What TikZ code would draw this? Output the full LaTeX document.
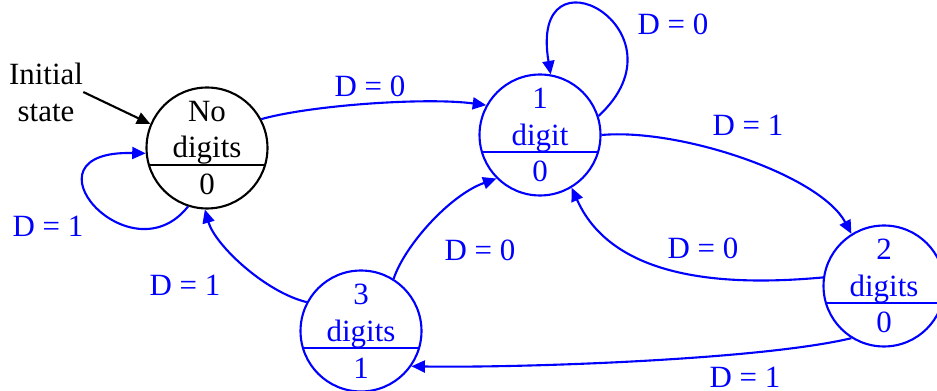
\documentclass[tikz,border=0pt]{standalone}
\usepackage{fontspec}
\setmainfont{Liberation Serif}
\usepackage{tikz}
\usetikzlibrary{arrows.meta}
\usetikzlibrary{calc}

\begin{document}
\begin{tikzpicture}[x=0.02cm, y=-0.02cm]
        \tikzstyle{state} = [circle, draw, line width=1.2pt, minimum size=2.42cm, inner sep=0pt, align=center, font=\rmfamily\fontsize{17.6}{21}\selectfont]
        \tikzstyle{lbl} = [inner sep=0pt, font=\rmfamily\fontsize{17.6}{21}\selectfont]
        \tikzstyle{trans} = [line width=1.2pt, -{Triangle[length=0.27cm, width=0.24cm]}]

        \useasboundingbox (0,0) rectangle (937,391);

        % states
        \node[state] (s0) at (207,148) {No\\digits\\0};
        \node[state, blue] (s1) at (540,135) {1\\digit\\0};
        \node[state, blue] (s2) at (884,286) {2\\digits\\0};
        \node[state, blue] (s3) at (361,331) {3\\digits\\1};

        \foreach \s/\c in {s0/black, s1/blue, s2/blue, s3/blue}
                \draw[line width=1.2pt, \c] (\s.196) -- (\s.344);

        % initial state
        \node[lbl, align=center] (init) at (46,92) {Initial\\state};
        \draw[trans] (init.east) -- (s0.157);

        % transitions
        \begin{scope}[blue]
                \draw[trans] (s0.28) .. controls +(50,-14) and +(-60,-8) .. (s1.151);
                \draw[trans] (s1.18) .. controls (692,30) and (528,-60) .. (s1.80);
                \draw[trans] (s1.0) .. controls (680,128) and (820,175) .. (s2.122);
                \draw[trans] (s2.172) .. controls (740,285) and (615,285) .. (s1.301);
                \draw[trans] (s2.238) .. controls (760,360) and (520,368) .. (s3.325);
                \draw[trans] (s3.58) .. controls (405,245) and (450,195) .. (s1.225);
                \draw[trans] (s3.152) .. controls (265,292) and (215,245) .. (s0.268);
                \draw[trans] (s0.252) .. controls (130,280) and (15,150) .. (s0.185);

                \node[lbl] (d01) at (370,86) {D = 0};
                \node[lbl] (d11) at (673,24) {D = 0};
                \node[lbl] (d12) at (748,125) {D = 1};
                \node[lbl] (d21) at (703,248) {D = 0};
                \node[lbl] (d23) at (745,377) {D = 1};
                \node[lbl] (d31) at (480,250) {D = 0};
                \node[lbl] (d30) at (185,285) {D = 1};
                \node[lbl] (d00) at (48,226) {D = 1};
        \end{scope}
\end{tikzpicture}
\end{document}
